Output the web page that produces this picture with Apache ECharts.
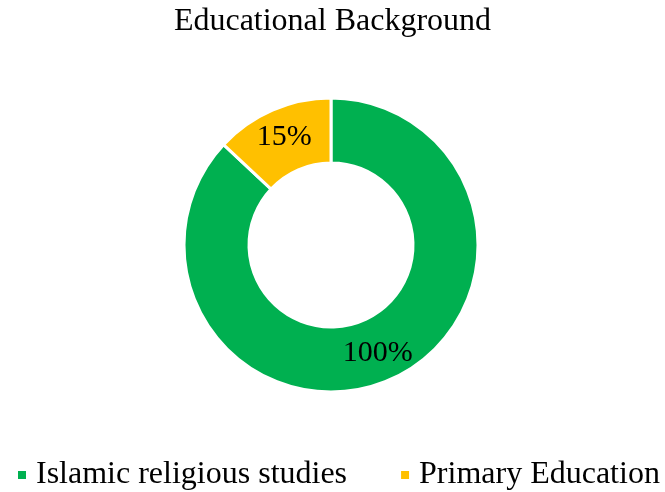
<!DOCTYPE html>
<html>
<head>
<meta charset="utf-8">
<script src="https://cdn.jsdelivr.net/npm/echarts@6/dist/echarts.min.js"></script>
<style>
  html, body { margin: 0; padding: 0; background: #fff; }
  #chart { width: 665px; height: 492px; }
</style>
</head>
<body>
<div id="chart"></div>
<script>
var categories = ['Islamic religious studies', 'Primary Education']
var values = [100, 15]
var colors = ['#00B050', '#FFC000']

var myChart = echarts.init(document.getElementById('chart'))
var font = '"Liberation Serif", "Times New Roman", serif'

myChart.setOption({
  animation: false,
  title: {
    text: 'Educational Background',
    left: 'center',
    top: 1,
    textStyle: { fontFamily: font, fontSize: 32, fontWeight: 'normal', color: '#000' }
  },
  legend: {
    top: 454,
    left: 11,
    icon: 'rect',
    itemWidth: 10,
    itemHeight: 10,
    itemGap: 52,
    data: categories,
    textStyle: { fontFamily: font, fontSize: 32, color: '#000', padding: [0, 0, 0, 4] }
  },
  series: [{
    type: 'pie',
    center: [331, 245],
    radius: [82, 147],
    startAngle: 90,
    clockwise: true,
    label: {
      show: true,
      position: 'inside',
      formatter: '{c}%',
      fontFamily: font,
      fontSize: 30,
      color: '#000'
    },
    labelLine: { show: false },
    itemStyle: { borderColor: '#fff', borderWidth: 3 },
    data: categories.map(function (name, i) {
      return { name: name, value: values[i], itemStyle: { color: colors[i] } }
    })
  }]
})
</script>
</body>
</html>
